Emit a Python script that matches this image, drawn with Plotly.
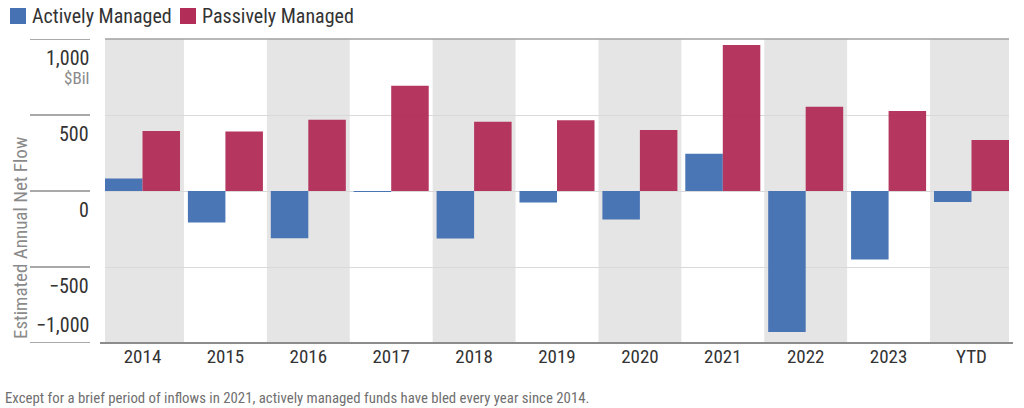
import plotly.graph_objects as go

categories = ["2014", "2015", "2016", "2017", "2018", "2019", "2020", "2021", "2022", "2023", "YTD"]
active = [83, -208, -311, -5, -313, -75, -188, 245, -928, -451, -72]
passive = [394, 392, 468, 693, 455, 466, 402, 960, 555, 527, 335]
tick_vals = [1000, 500, 0, -500, -1000]
tick_text = ["1,000", "500", "0", "\u2212500", "\u22121,000"]
series_names = ["Actively Managed", "Passively Managed"]

FONT = "Roboto Condensed, Liberation Sans Narrow, DejaVu Sans Condensed, Arial Narrow, sans-serif"
BLUE = "#4672b4"
RED = "#b22d58"
colors = [BLUE, RED]

fig = go.Figure()
fig.add_trace(go.Bar(x=categories, y=active, name=series_names[0],
                     marker=dict(color=BLUE, line=dict(width=0)), opacity=0.97))
fig.add_trace(go.Bar(x=categories, y=passive, name=series_names[1],
                     marker=dict(color=RED, line=dict(width=0)), opacity=0.95))

L, R, T, B = 105, 15, 39, 65
W, H = 1024, 408
pw = W - L - R
ph = H - T - B

def px2paperx(px):
    return (px - L) / pw

def px2papery(py):
    return (H - B - py) / ph

shapes = []
# alternating bands
for i in range(len(categories)):
    if i % 2 == 0:
        shapes.append(dict(type="rect", xref="x", yref="paper", x0=i - 0.5, x1=i + 0.5,
                           y0=0, y1=1, fillcolor="#e5e5e5", line=dict(width=0), layer="below"))
# left short lines at tick positions
for v in tick_vals:
    shapes.append(dict(type="line", xref="paper", yref="y", x0=px2paperx(30), x1=px2paperx(90),
                       y0=v, y1=v, line=dict(color="#8c8c8c", width=1.5)))
# top and bottom frame lines
shapes.append(dict(type="line", xref="paper", yref="paper", x0=0, x1=1, y0=1, y1=1,
                   line=dict(color="#a0a0a0", width=1.5)))
shapes.append(dict(type="line", xref="paper", yref="paper", x0=px2paperx(100), x1=px2paperx(1013),
                   y0=0, y1=0, line=dict(color="#8c8c8c", width=2)))

annotations = []
# custom legend
legend_pos = [(10, 30), (180, 200)]
for name, col, (sx, tx) in zip(series_names, colors, legend_pos):
    shapes.append(dict(type="rect", xref="paper", yref="paper",
                       x0=px2paperx(sx), x1=px2paperx(sx + 16), y0=px2papery(24), y1=px2papery(8),
                       fillcolor=col, line=dict(width=0)))
    annotations.append(dict(text=name, xref="paper", yref="paper", x=px2paperx(tx), y=px2papery(16),
                            xanchor="left", yanchor="middle", showarrow=False,
                            font=dict(family=FONT, size=20, color="#333333")))

for v, t in zip(tick_vals, tick_text):
    shift = -19 if v != min(tick_vals) else 18
    annotations.append(dict(text=t, xref="paper", yref="y", x=px2paperx(91), y=v, yshift=shift,
                            xanchor="right", yanchor="middle", showarrow=False,
                            font=dict(family=FONT, size=20, color="#333333")))
annotations.append(dict(text="$Bil", xref="paper", yref="y", x=px2paperx(91), y=max(tick_vals),
                        yshift=-39, xanchor="right", yanchor="middle", showarrow=False,
                        font=dict(family=FONT, size=17, color="#8a8a8a")))
annotations.append(dict(text="Estimated Annual Net Flow", xref="paper", yref="paper",
                        x=px2paperx(20), y=px2papery(238), textangle=-90,
                        xanchor="center", yanchor="middle", showarrow=False,
                        font=dict(family=FONT, size=19, color="#8a8a8a")))
annotations.append(dict(text="Except for a brief period of inflows in 2021, actively managed funds have bled every year since 2014.",
                        xref="paper", yref="paper", x=px2paperx(3), y=px2papery(398),
                        xanchor="left", yanchor="middle", showarrow=False,
                        font=dict(family=FONT, size=14.8, color="#6f6f6f")))

fig.update_layout(
    width=W, height=H,
    margin=dict(l=L, r=R, t=T, b=B, autoexpand=False),
    plot_bgcolor="white", paper_bgcolor="white",
    barmode="group", bargap=0.095, bargroupgap=0,
    showlegend=False,
    shapes=shapes, annotations=annotations,
    font=dict(family=FONT),
)
fig.update_xaxes(range=[-0.4525, len(categories) - 1 + 0.4525], showgrid=False, showline=False,
                 ticks="", tickfont=dict(family=FONT, size=19, color="#333333"), fixedrange=True)
fig.update_yaxes(range=[-1000, 1000], tickvals=tick_vals[1:-1], showticklabels=False,
                 showgrid=True, gridcolor="#d9d9d9", gridwidth=1, zeroline=True,
                 zerolinecolor="#d9d9d9", zerolinewidth=1, showline=False, fixedrange=True)

fig.write_html("out.html", config={"displayModeBar": False},
               post_script="document.body.style.margin='0';document.body.style.overflow='hidden';")
